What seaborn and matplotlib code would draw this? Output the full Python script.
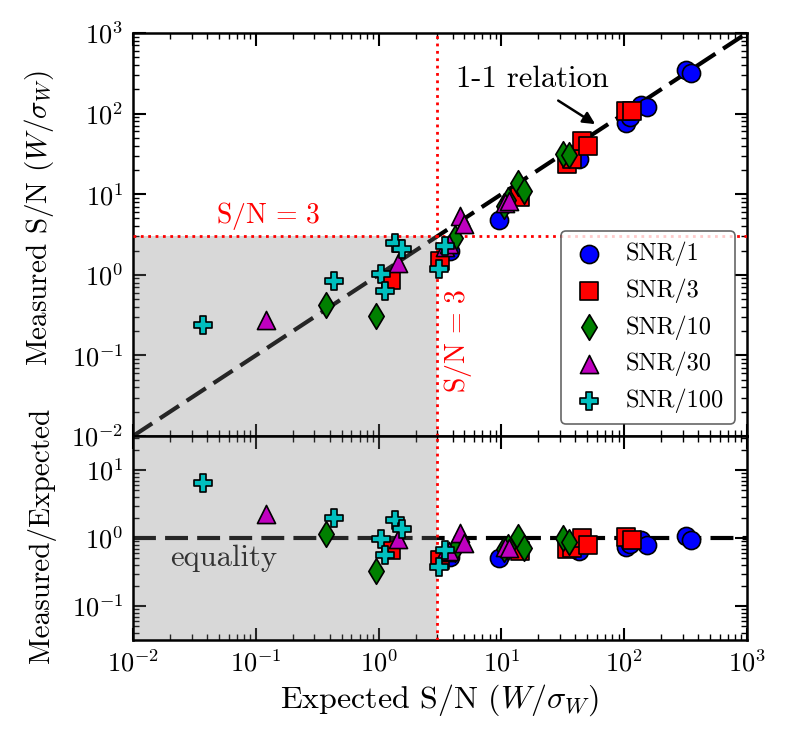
import numpy as np
import pandas as pd
import matplotlib
matplotlib.use("Agg")
import matplotlib.pyplot as plt
import seaborn as sns

# expected / measured S/N for each degraded-SNR series
snr1_exp = [3.8, 9.5, 42.5, 104, 112, 137, 152, 318, 350]
snr1_meas = [2.0, 4.75, 27, 77, 91, 128, 121, 344, 322]

snr3_exp = [1.27, 3.15, 14.1, 34.0, 37.5, 45.5, 50.5, 104, 116]
snr3_meas = [0.86, 1.48, 9.1, 23.5, 27.0, 45.5, 39.5, 108, 108]

snr10_exp = [0.37, 0.96, 4.2, 10.5, 11.3, 13.6, 15.3, 31.5, 35.2]
snr10_meas = [0.42, 0.31, 2.9, 7.2, 8.4, 13.9, 11.0, 31.3, 30.6]

snr30_exp = [0.122, 1.44, 3.5, 3.75, 4.56, 5.0, 10.6, 11.6]
snr30_meas = [0.272, 1.41, 2.2, 2.4, 5.36, 4.24, 7.85, 8.2]

snr100_exp = [0.037, 0.43, 1.05, 1.12, 1.37, 1.56, 3.1, 3.44]
snr100_meas = [0.238, 0.84, 1.01, 0.63, 2.5, 2.1, 1.17, 2.28]

series_names = ["SNR/1", "SNR/3", "SNR/10", "SNR/30", "SNR/100"]
series_exp = [snr1_exp, snr3_exp, snr10_exp, snr30_exp, snr100_exp]
series_meas = [snr1_meas, snr3_meas, snr10_meas, snr30_meas, snr100_meas]
colors = ["b", "r", "g", "m", "c"]
markers = ["o", "s", "d", "^", "P"]

sn_cut = 3.0

frames = []
for name, e, m in zip(series_names, series_exp, series_meas):
    d = pd.DataFrame({"expected": e, "measured": m})
    d["ratio"] = d["measured"] / d["expected"]
    d["series"] = name
    frames.append(d)
df = pd.concat(frames, ignore_index=True)

sns.set_style("ticks")
plt.rcParams["font.family"] = "serif"
plt.rcParams["font.serif"] = ["cmr10", "DejaVu Serif"]
plt.rcParams["mathtext.fontset"] = "cm"
plt.rcParams["axes.formatter.use_mathtext"] = True
plt.rcParams["axes.unicode_minus"] = False
for key in ["text.color", "axes.labelcolor", "xtick.color", "ytick.color",
            "axes.edgecolor"]:
    plt.rcParams[key] = "k"

fig = plt.figure(figsize=(7.89, 7.41), dpi=100)
ax1 = fig.add_axes([0.1686, 0.4116, 0.7782, 0.5439])
ax2 = fig.add_axes([0.1686, 0.1363, 0.7782, 0.2753], sharex=ax1)

xlim = (1e-2, 1e3)
line = np.array(xlim)
dash = (5.5, 2.2)

# top panel: measured vs expected
ax1.plot(line, line, ls="--", color="k", lw=3, dashes=dash, zorder=2)
ax1.fill_between([xlim[0], sn_cut], 1e-2, sn_cut, color="gray", alpha=0.3,
                 lw=0, zorder=2.5)
ax1.axhline(sn_cut, color="r", ls=":", lw=2, zorder=2.6)
ax1.axvline(sn_cut, color="r", ls=":", lw=2, zorder=2.6)

# bottom panel: ratio
ax2.axhline(1.0, ls="--", color="k", lw=3, dashes=dash, zorder=2)
ax2.axvspan(xlim[0], sn_cut, color="gray", alpha=0.3, lw=0, zorder=2.5)
ax2.axvline(sn_cut, color="r", ls=":", lw=2, zorder=2.6)

for name, c, mk in zip(series_names, colors, markers):
    sub = df[df["series"] == name]
    sns.scatterplot(data=sub, x="expected", y="measured", ax=ax1, color=c,
                    marker=mk, s=170, edgecolor="k", linewidth=1.2,
                    label=name, zorder=3)
    sns.scatterplot(data=sub, x="expected", y="ratio", ax=ax2, legend=False,
                    color=c, marker=mk, s=170, edgecolor="k", linewidth=1.2,
                    zorder=3)

for ax in (ax1, ax2):
    ax.set_xscale("log")
    ax.set_yscale("log")
    ax.set_xlim(*xlim)
    ax.tick_params(which="both", direction="in", top=True, right=True,
                   labelsize=19, pad=7)
    ax.tick_params(which="major", length=9, width=1.5)
    ax.tick_params(which="minor", length=4.5, width=1)
    for sp in ax.spines.values():
        sp.set_linewidth(1.8)

ax1.set_ylim(1e-2, 1e3)
ax2.set_ylim(10 ** -1.5, 10 ** 1.5)
ax1.tick_params(labelbottom=False)
ax1.set_xlabel("")

ax1.set_ylabel(r"Measured S/N ($W/\sigma_W$)", fontsize=21)
ax2.set_ylabel("Measured/Expected", fontsize=21)
ax2.set_xlabel(r"Expected S/N ($W/\sigma_W$)", fontsize=23)
ax1.yaxis.set_label_coords(-0.125, 0.54)
ax2.yaxis.set_label_coords(-0.125, 0.515)

ax1.text(18, 269, "1-1 relation", fontsize=22, ha="center", va="center")
ax1.annotate("", xy=(58, 74), xytext=(29, 145),
             arrowprops=dict(arrowstyle="-|>", color="k", lw=1.8,
                             mutation_scale=18, shrinkA=0, shrinkB=0))
ax1.text(0.125, 3.35, r"$\mathrm{S/N}\,=\,3$", color="r", fontsize=20,
         ha="center", va="bottom")
ax1.text(4.4, 0.15, r"$\mathrm{S/N}\,=\,3$", color="r", fontsize=20,
         ha="center", va="center", rotation=90)
ax2.text(0.055, 0.5, "equality", color="0.2", fontsize=22,
         ha="center", va="center", zorder=2.7)

leg = ax1.legend(loc="lower right", fontsize=17.5, labelspacing=0.5,
                 handlelength=1.4, handletextpad=0.8, borderpad=0.45,
                 fancybox=True, edgecolor="0.25", framealpha=0.8)
leg.get_frame().set_linewidth(1.2)

fig.savefig("out.png", dpi=100)
